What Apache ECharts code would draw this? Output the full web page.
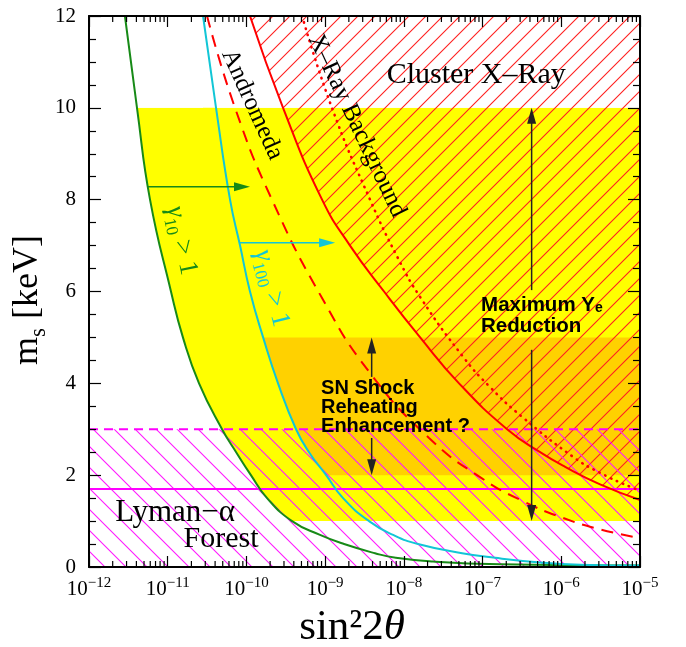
<!DOCTYPE html>
<html>
<head>
<meta charset="utf-8">
<script src="https://cdn.jsdelivr.net/npm/echarts/dist/echarts.min.js"></script>
<style>
html,body{margin:0;padding:0;background:#fff;}
#chart{width:686px;height:647px;}
</style>
</head>
<body>
<div id="chart"></div>
<script>
// ---------------- DATA ----------------
const xDecades = [-12, -11, -10, -9, -8, -7, -6, -5];
const yTickValues = [0, 2, 4, 6, 8, 10, 12];

// gamma_10 > 1 (green)
const gamma10Curve = [
  [2.86e-12, 12], [4.07e-12, 10], [5.96e-12, 8], [1.10e-11, 6], [1.56e-11, 5],
  [2.50e-11, 4], [4.90e-11, 3], [7.4e-11, 2.5], [1.14e-10, 2], [1.83e-10, 1.5],
  [3.8e-10, 1], [8.6e-10, 0.7], [1.74e-9, 0.5], [4.3e-9, 0.3], [7.9e-9, 0.2],
  [2.35e-8, 0.12], [1.66e-7, 0.06], [1e-5, 0.03]
];
// gamma_100 > 1 (cyan)
const gamma100Curve = [
  [2.81e-11, 12], [4.11e-11, 10], [6.19e-11, 8], [8.3e-11, 7], [1.11e-10, 6],
  [1.63e-10, 5], [2.52e-10, 4], [4.27e-10, 3], [6.24e-10, 2.5], [1.03e-9, 2],
  [1.69e-9, 1.5], [3.61e-9, 1], [7.3e-9, 0.7], [1.51e-8, 0.5], [5.5e-8, 0.3],
  [1.44e-7, 0.2], [5.4e-7, 0.1], [1.74e-6, 0.05], [1e-5, 0.03]
];
// Andromeda (red dashed)
const andromedaCurve = [
  [3.16e-11, 12], [7.16e-11, 10], [2.11e-10, 8], [9.4e-10, 5.82], [3.7e-9, 4.23],
  [2.09e-8, 2.81], [9.6e-8, 1.94], [3.2e-7, 1.44], [1.05e-6, 1.07], [3.1e-6, 0.82], [1e-5, 0.63]
];
// Cluster X-Ray (red solid, hatched above)
const clusterXRayCurve = [
  [1.11e-10, 12], [2.92e-10, 10], [9.14e-10, 8], [2.07e-9, 7], [5.6e-9, 6],
  [1.61e-8, 5], [5.02e-8, 4], [2.05e-7, 3], [5.38e-7, 2.5], [1.12e-6, 2.18],
  [3.11e-6, 1.8], [1e-5, 1.46]
];
// X-Ray Background (red dotted)
const xrayBackgroundCurve = [
  [5.1e-10, 12], [1.22e-9, 10], [3.72e-9, 8], [8.4e-9, 6.73], [1.61e-8, 5.88],
  [5.65e-8, 4.58], [1.24e-7, 3.92], [3.18e-7, 3.27], [1.41e-6, 2.40], [3.11e-6, 2.05],
  [8.2e-6, 1.72], [1e-5, 1.68]
];
// Lyman-alpha forest limits
const lymanSolidLevel = [1.7];
const lymanDashedLevel = [3.0];
// shaded bands (m_s ranges)
const yeBand = [1, 10];     // yellow: maximum Ye reduction
const snBand = [2, 5];      // orange: SN shock reheating
// arrows [from, to]
const greenArrow = [[5.6e-12, 8.28], [1.11e-10, 8.28]];
const cyanArrow = [[8.2e-11, 7.06], [1.34e-9, 7.06]];
const yeArrowUp = [[4.2e-7, 6.03], [4.2e-7, 10]];
const yeArrowDown = [[4.2e-7, 4.73], [4.2e-7, 1]];
const snArrowUp = [[3.9e-9, 4.14], [3.9e-9, 5]];
const snArrowDown = [[3.9e-9, 2.81], [3.9e-9, 2]];

// ---------------- STYLE / LAYOUT ----------------
const X_MIN = Math.pow(10, xDecades[0]);
const X_MAX = Math.pow(10, xDecades[xDecades.length - 1]);
const Y_MIN = yTickValues[0];
const Y_MAX = yTickValues[yTickValues.length - 1];
const SERIF = '"Liberation Serif", "Times New Roman", serif';
const SANS = '"Liberation Sans", Arial, sans-serif';
const SMOOTH = 0.5;
const C = {
  green: '#178a17', cyan: '#12c6d6', red: '#ff0000', magenta: '#ff00ff',
  yellow: '#ffff00', orange: '#ffd100', dark: '#222222'
};

function hatch(color, size, dir, lw) {
  const c = document.createElement('canvas');
  c.width = size; c.height = size;
  const g = c.getContext('2d');
  g.strokeStyle = color; g.lineWidth = lw;
  g.beginPath();
  if (dir > 0) {
    g.moveTo(-2, size + 2); g.lineTo(size + 2, -2);
    g.moveTo(-2, 2); g.lineTo(2, -2);
    g.moveTo(size - 2, size + 2); g.lineTo(size + 2, size - 2);
  } else {
    g.moveTo(-2, -2); g.lineTo(size + 2, size + 2);
    g.moveTo(size - 2, -2); g.lineTo(size + 2, 2);
    g.moveTo(-2, size - 2); g.lineTo(2, size + 2);
  }
  g.stroke();
  return c;
}
const redHatch = { image: hatch('#ff2020', 17, 1, 1.1), repeat: 'repeat' };
const magentaHatch = { image: hatch('#ff1aff', 21, -1, 1.1), repeat: 'repeat' };

function rectSeries(x0, x1, y0, y1, fill, z) {
  return {
    type: 'custom', coordinateSystem: 'cartesian2d', z: z, silent: true, clip: true,
    data: [[x0, y0]],
    renderItem: function (params, api) {
      const pts = [[x0, y0], [x1, y0], [x1, y1], [x0, y1]].map(p => api.coord(p));
      return { type: 'polygon', shape: { points: pts }, style: { fill: fill } };
    }
  };
}
function areaSeries(data, fill, origin, z) {
  return {
    type: 'line', data: data, z: z, smooth: SMOOTH, symbol: 'none', silent: true,
    lineStyle: { width: 0, opacity: 0 },
    areaStyle: { color: fill, opacity: 1, origin: origin }
  };
}
function curveSeries(data, color, width, type, z, smooth, cap) {
  return {
    type: 'line', data: data, z: z, smooth: smooth === undefined ? SMOOTH : smooth, symbol: 'none', silent: true,
    lineStyle: { color: color, width: width, type: type, cap: cap || 'butt' }
  };
}

const yeStartX = gamma10Curve.find(p => p[1] === yeBand[1])[0];
const snStartX = gamma100Curve.find(p => p[1] === snBand[1])[0];

const arrows = [
  { pts: greenArrow, color: C.green },
  { pts: cyanArrow, color: C.cyan },
  { pts: yeArrowUp, color: C.dark },
  { pts: yeArrowDown, color: C.dark },
  { pts: snArrowUp, color: C.dark },
  { pts: snArrowDown, color: C.dark }
];

const deg = Math.PI / 180;
const gammaRich = (col) => ({
  g: { fontFamily: SERIF, fontSize: 27, fontStyle: 'italic', fill: col, verticalAlign: 'top', padding: [0, 0, 3, 0] },
  n: { fontFamily: SERIF, fontSize: 27, fill: col, verticalAlign: 'top', padding: [0, 0, 3, 0] },
  s: { fontFamily: SERIF, fontSize: 17, fill: col, verticalAlign: 'bottom' }
});
const annotations = [
  { at: [8.3e-8, 10.72], text: 'Cluster X–Ray', style: { fontFamily: SERIF, fontSize: 30, fill: '#000' } },
  { at: [1.24e-11, 1.18], text: 'Lyman−α', style: { fontFamily: SERIF, fontSize: 31, fill: '#000' } },
  { at: [4.75e-11, 0.61], text: 'Forest', style: { fontFamily: SERIF, fontSize: 30, fill: '#000' } },
  { at: [1.18e-10, 10.07], rot: -65.6 * deg, text: 'Andromeda', style: { fontFamily: SERIF, fontSize: 25, fill: '#000' } },
  { at: [2.54e-9, 9.61], rot: -64.7 * deg, text: 'X–Ray Background', style: { fontFamily: SERIF, fontSize: 25, fill: '#000' } },
  { at: [1.43e-11, 7.10], rot: -78 * deg, text: '{g|γ}{s|10}{n| > 1}', style: { fill: C.green, rich: gammaRich(C.green) } },
  { at: [2.0e-10, 6.06], rot: -76 * deg, text: '{g|γ}{s|100}{n| > 1}', style: { fill: C.cyan, rich: gammaRich(C.cyan) } },
  { at: [9.57e-8, 5.48], align: 'left', text: '{b|Maximum Y}{e|e}\n{b|Reduction}',
    style: { fill: '#000', rich: {
      b: { fontFamily: SANS, fontWeight: 'bold', fontSize: 20.5, lineHeight: 21, fill: '#000', verticalAlign: 'top', padding: [0, 0, 2, 0] },
      e: { fontFamily: SANS, fontWeight: 'bold', fontSize: 14, lineHeight: 14, fill: '#000', verticalAlign: 'bottom' } } } },
  { at: [8.87e-10, 3.475], align: 'left', text: 'SN Shock\nReheating\nEnhancement ?',
    style: { fontFamily: SANS, fontWeight: 'bold', fontSize: 20, lineHeight: 19, fill: '#000' } }
];

const minorTickValues = [];
xDecades.slice(0, -1).forEach(d => { for (let k = 2; k <= 9; k++) minorTickValues.push(k * Math.pow(10, d)); });

const chart = echarts.init(document.getElementById('chart'), null, { renderer: 'canvas' });

const xAxisCommon = {
  type: 'log', logBase: 10, min: X_MIN, max: X_MAX, splitNumber: 7, z: 20,
  axisLine: { show: true, onZero: false, lineStyle: { color: '#000', width: 2 } },
  axisTick: { show: true, inside: true, length: 11, lineStyle: { color: '#000', width: 1.2 } },
  minorTick: { show: false }, splitLine: { show: false }, minorSplitLine: { show: false }
};
const yAxisCommon = {
  type: 'value', min: Y_MIN, max: Y_MAX, interval: 2, z: 20,
  axisLine: { show: true, onZero: false, lineStyle: { color: '#000', width: 2 } },
  axisTick: { show: true, inside: true, length: 12, lineStyle: { color: '#000', width: 1.2 } },
  minorTick: { show: true, splitNumber: 4, length: 7, lineStyle: { color: '#000', width: 1.2 } },
  splitLine: { show: false }, minorSplitLine: { show: false }
};

const option = {
  animation: false,
  backgroundColor: '#fff',
  grid: { left: 89, right: 46, top: 16, bottom: 80, containLabel: false },
  xAxis: [
    Object.assign({}, xAxisCommon, {
      position: 'bottom',
      axisLabel: {
        show: true, margin: 9,
        formatter: v => '{b|10}{e|−' + Math.abs(Math.round(Math.log10(v))) + '}',
        rich: {
          b: { fontFamily: SERIF, fontSize: 21, color: '#000', verticalAlign: 'bottom', padding: [3, 0, 0, 0] },
          e: { fontFamily: SERIF, fontSize: 15, color: '#000', verticalAlign: 'top' }
        }
      }
    }),
    Object.assign({}, xAxisCommon, { position: 'top', axisLabel: { show: false } })
  ],
  yAxis: [
    Object.assign({}, yAxisCommon, {
      position: 'left',
      axisLabel: { show: true, margin: 13, fontFamily: SERIF, fontSize: 21, color: '#000' }
    }),
    Object.assign({}, yAxisCommon, { position: 'right', axisLabel: { show: false } })
  ],
  graphic: [
    { type: 'text', x: 352, y: 628, z: 100,
      style: { text: '{a|sin²2}{t|θ}', align: 'center', verticalAlign: 'middle',
        rich: { a: { fontFamily: SERIF, fontSize: 43, fill: '#000' }, t: { fontFamily: SERIF, fontSize: 43, fontStyle: 'italic', fill: '#000' } } } },
    { type: 'text', x: 30, y: 300, rotation: Math.PI / 2, z: 100,
      style: { text: '{m|m}{s|s}{m| [keV]}', align: 'center', verticalAlign: 'middle',
        rich: { m: { fontFamily: SERIF, fontSize: 36, fill: '#000', verticalAlign: 'top', padding: [0, 0, 4, 0] },
                s: { fontFamily: SERIF, fontSize: 23, fill: '#000', verticalAlign: 'bottom' } } } }
  ],
  series: [
    rectSeries(yeStartX, X_MAX, yeBand[0], yeBand[1], C.yellow, 1),
    rectSeries(snStartX, X_MAX, snBand[0], snBand[1], C.orange, 1),
    areaSeries(gamma100Curve, C.yellow, 'start', 2),
    areaSeries(gamma10Curve, '#ffffff', 'start', 3),
    rectSeries(X_MIN, X_MAX, Y_MIN, yeBand[0], '#ffffff', 3),
    rectSeries(X_MIN, X_MAX, yeBand[1], Y_MAX, '#ffffff', 3),
    areaSeries(clusterXRayCurve, redHatch, 'end', 4),
    {
      type: 'line', z: 5, symbol: 'none', silent: true,
      data: [[X_MIN, lymanDashedLevel[0]], [X_MAX, lymanDashedLevel[0]]],
      lineStyle: { color: C.magenta, width: 2, type: [9, 6] },
      areaStyle: { color: magentaHatch, opacity: 1, origin: 'start' }
    },
    curveSeries([[X_MIN, lymanSolidLevel[0]], [X_MAX, lymanSolidLevel[0]]], C.magenta, 2, 'solid', 6, false),
    curveSeries(gamma10Curve, C.green, 2, 'solid', 7),
    curveSeries(gamma100Curve, C.cyan, 2, 'solid', 7),
    curveSeries(andromedaCurve, C.red, 2, [12, 8], 7),
    curveSeries(xrayBackgroundCurve, C.red, 2.6, [0.5, 6], 7, SMOOTH, 'round'),
    curveSeries(clusterXRayCurve, C.red, 2, 'solid', 7),
    {
      type: 'custom', coordinateSystem: 'cartesian2d', z: 8, silent: true, clip: false,
      data: arrows.map(a => a.pts[0]),
      renderItem: function (params, api) {
        const ar = arrows[params.dataIndex];
        const a = api.coord(ar.pts[0]), b = api.coord(ar.pts[1]);
        const dx = b[0] - a[0], dy = b[1] - a[1], L = Math.hypot(dx, dy);
        const ux = dx / L, uy = dy / L, hl = 16, hw = 4.5;
        const base = [b[0] - ux * hl, b[1] - uy * hl];
        return { type: 'group', children: [
          { type: 'line', shape: { x1: a[0], y1: a[1], x2: base[0] + ux * 2, y2: base[1] + uy * 2 }, style: { stroke: ar.color, lineWidth: 1.5 } },
          { type: 'polygon', shape: { points: [b, [base[0] - uy * hw, base[1] + ux * hw], [base[0] + uy * hw, base[1] - ux * hw]] }, style: { fill: ar.color } }
        ] };
      }
    },
    {
      type: 'custom', coordinateSystem: 'cartesian2d', z: 9, silent: true, clip: false,
      data: annotations.map(a => a.at),
      renderItem: function (params, api) {
        const an = annotations[params.dataIndex];
        const p = api.coord(an.at);
        return { type: 'text', x: p[0], y: p[1], rotation: an.rot || 0,
          style: Object.assign({ text: an.text, align: an.align || 'center', verticalAlign: 'middle' }, an.style) };
      }
    },
    {
      type: 'custom', coordinateSystem: 'cartesian2d', z: 30, silent: true, clip: false,
      data: minorTickValues.map(v => [v, Y_MIN]),
      renderItem: function (params, api) {
        const p = api.coord([api.value(0), Y_MIN]);
        const cs = params.coordSys;
        const yb = cs.y + cs.height, yt = cs.y;
        const st = { stroke: '#000', lineWidth: 1.2 };
        return { type: 'group', children: [
          { type: 'line', shape: { x1: p[0], y1: yb, x2: p[0], y2: yb - 6 }, style: st },
          { type: 'line', shape: { x1: p[0], y1: yt, x2: p[0], y2: yt + 6 }, style: st }
        ] };
      }
    }
  ]
};
chart.setOption(option);
</script>
</body>
</html>
